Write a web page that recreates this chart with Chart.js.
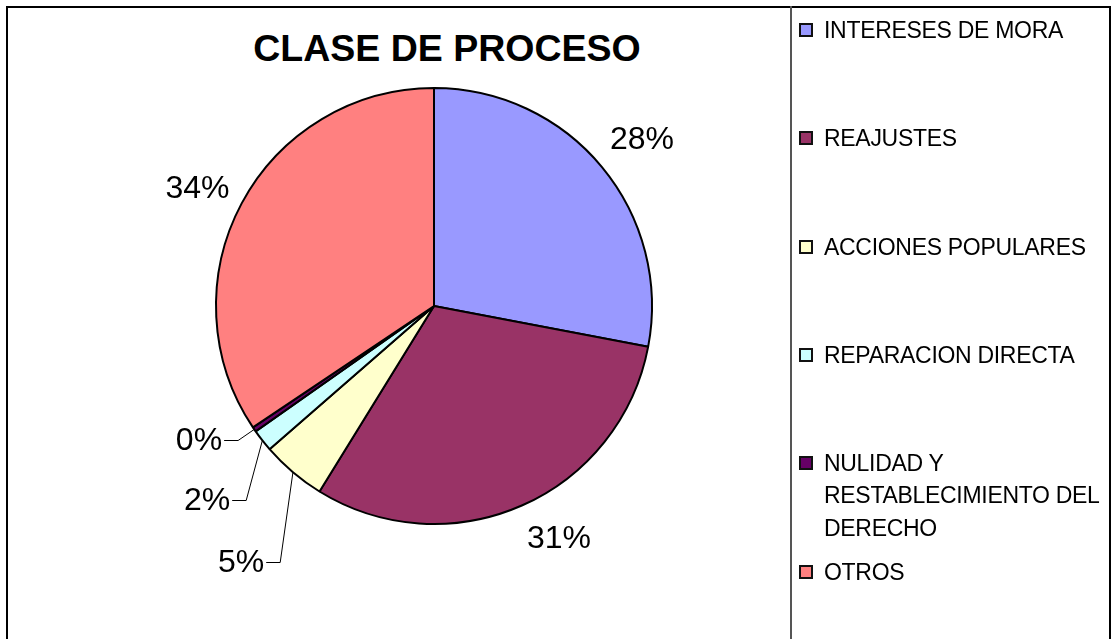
<!DOCTYPE html>
<html>
<head>
<meta charset="utf-8">
<script src="https://cdn.jsdelivr.net/npm/chart.js@4.4.1/dist/chart.umd.min.js"></script>
<style>
  html, body { margin: 0; padding: 0; background: #fff; }
  body { width: 1112px; height: 639px; position: relative; overflow: hidden;
         font-family: "Liberation Sans", Arial, sans-serif; }
  #frame { position: absolute; left: 6px; top: 6px; width: 1105px; height: 700px;
           box-sizing: border-box; border-left: 2px solid #000; border-top: 2px solid #000;
           border-right: 2px solid #000; }
  #legendBox { position: absolute; left: 790px; top: 6px; width: 321px; height: 700px;
               box-sizing: border-box; border-left: 2px solid #555; }
  #title { position: absolute; left: 0; width: 894px; top: 28px; line-height: 40px;
           text-align: center; font-weight: bold; font-size: 37.5px; color: #000; }
  canvas { position: absolute; left: 0; top: 0; }
  .item { position: absolute; left: 799px; width: 310px; line-height: 32.5px;
          font-size: 23px; letter-spacing: -0.3px; color: #000; }
  .item .sw { position: absolute; left: 0; top: 9px; width: 10px; height: 10px;
              border: 2px solid #111; }
  .item .tx { position: absolute; left: 25px; width: 292px; top: 0; }
</style>
</head>
<body>
<div id="frame"></div>
<div id="legendBox"></div>
<div id="title"></div>
<canvas id="c" width="1112" height="639"></canvas>
<div id="legend"></div>
<script>
// ---- data ----
const titleText = "CLASE DE PROCESO";
const categories = ["INTERESES DE MORA", "REAJUSTES", "ACCIONES POPULARES",
                    "REPARACION DIRECTA", "NULIDAD Y RESTABLECIMIENTO DEL DERECHO", "OTROS"];
const values = [28.0, 30.8, 4.8, 1.65, 0.35, 34.4];

// ---- styles ----
const colors = ["#9999FF", "#993366", "#FFFFCC", "#CCFFFF", "#660066", "#FF8080"];
// label centres, in units of pie radius, relative to the pie centre
const labelPos = [[0.954, -0.766], [0.573, 1.064], [-0.885, 1.174],
                  [-1.041, 0.890], [-1.078, 0.615], [-1.085, -0.541]];
const useLeader = [false, false, true, true, true, false];
const legendY = [30, 138, 247, 355, 463, 572];

document.getElementById('title').textContent = titleText;

// legend
const lg = document.getElementById('legend');
categories.forEach((c, i) => {
  const d = document.createElement('div');
  d.className = 'item';
  d.style.top = (legendY[i] - 16.25) + 'px';
  const sw = document.createElement('div');
  sw.className = 'sw';
  sw.style.background = colors[i];
  const tx = document.createElement('div');
  tx.className = 'tx';
  tx.textContent = c;
  d.appendChild(sw); d.appendChild(tx);
  lg.appendChild(d);
});

const total = values.reduce((a, b) => a + b, 0);

const labelPlugin = {
  id: 'pctLabels',
  afterDatasetsDraw(chart) {
    const ctx = chart.ctx;
    const meta = chart.getDatasetMeta(0);
    ctx.save();
    ctx.font = '32px "Liberation Sans", Arial, sans-serif';
    ctx.fillStyle = '#000';
    ctx.textAlign = 'center';
    ctx.textBaseline = 'middle';
    meta.data.forEach((arc, i) => {
      const r = arc.outerRadius;
      const cx = arc.x, cy = arc.y;
      const txt = Math.round(values[i] / total * 100) + '%';
      const lx = cx + labelPos[i][0] * r;
      const ly = cy + labelPos[i][1] * r;
      ctx.fillText(txt, lx, ly + 1);
      if (useLeader[i]) {
        const w = ctx.measureText(txt).width;
        const mid = (arc.startAngle + arc.endAngle) / 2;
        const ex = cx + Math.cos(mid) * r;
        const ey = cy + Math.sin(mid) * r;
        const sx = lx + w / 2 + 2;
        ctx.beginPath();
        ctx.strokeStyle = '#000';
        ctx.lineWidth = 1;
        ctx.moveTo(sx, Math.round(ly) + 0.5);
        ctx.lineTo(sx + 14, Math.round(ly) + 0.5);
        ctx.lineTo(ex, ey);
        ctx.stroke();
      }
    });
    ctx.restore();
  }
};

new Chart(document.getElementById('c'), {
  type: 'pie',
  data: {
    labels: categories,
    datasets: [{
      data: values,
      backgroundColor: colors,
      borderColor: '#000',
      borderWidth: 2
    }]
  },
  options: {
    responsive: false,
    devicePixelRatio: 1,
    animation: false,
    layout: { padding: { left: 215, right: 459, top: 87, bottom: 114 } },
    plugins: {
      legend: { display: false },
      title: { display: false },
      tooltip: { enabled: false }
    }
  },
  plugins: [labelPlugin]
});
</script>
</body>
</html>
